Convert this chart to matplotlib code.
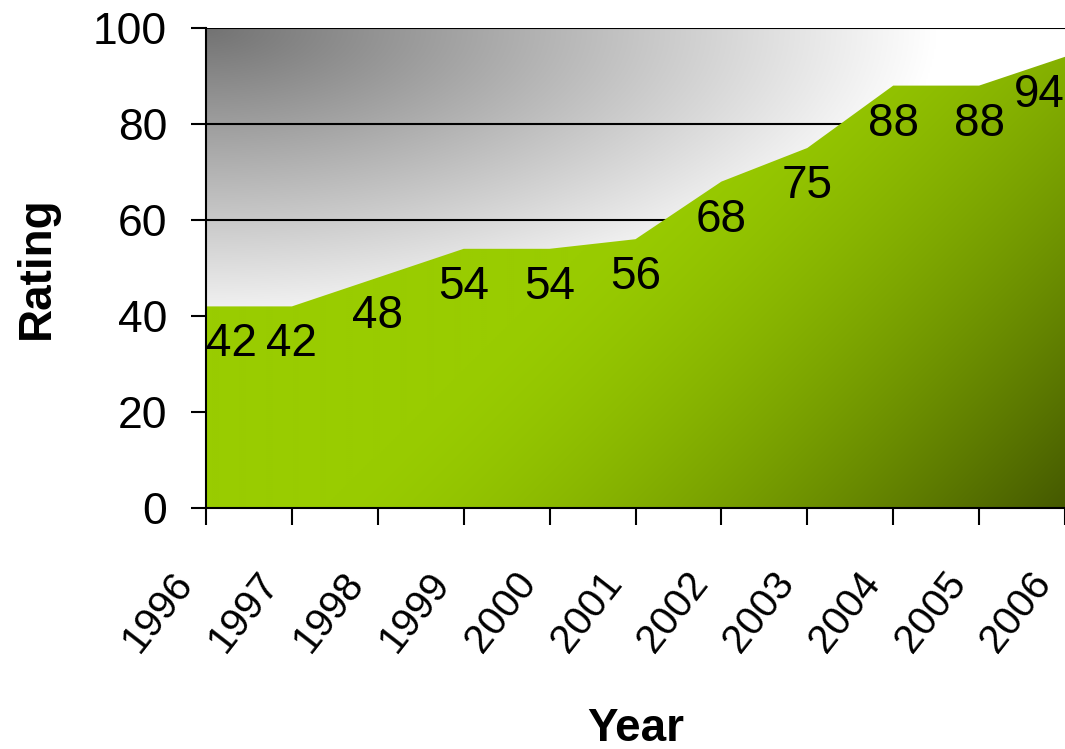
import numpy as np
import matplotlib
matplotlib.use('Agg')
import matplotlib.pyplot as plt
import matplotlib.transforms as mtransforms

years = ['1996', '1997', '1998', '1999', '2000', '2001', '2002', '2003', '2004', '2005', '2006']
ratings = [42, 42, 48, 54, 54, 56, 68, 75, 88, 88, 94]
y_ticks = [0, 20, 40, 60, 80, 100]

plt.rcParams['font.family'] = ['Liberation Sans', 'DejaVu Sans']

W, H = 1065, 749
fig = plt.figure(figsize=(W / 100, H / 100), dpi=100)
ax = fig.add_axes([206 / W, (H - 508) / H, (W - 206) / W, 480 / H])

x = np.arange(len(years))

# background gradient (dark grey at top-left fading to white)
nx, ny = 430, 240
XF, YF = np.meshgrid(np.linspace(0, 1, nx), np.linspace(0, 1, ny))
u = np.sqrt((XF / 0.85) ** 2 + ((1 - YF) / 0.65) ** 2)
g = 0.45 + 0.55 * np.clip(u, 0, 1)
bg = np.dstack([g, g, g])
ax.imshow(bg, extent=[0, 1, 0, 1], transform=ax.transAxes, origin='lower',
          aspect='auto', zorder=0, interpolation='bilinear')

# gridlines
for v in y_ticks[1:]:
    ax.axhline(v, color='black', lw=1.5, zorder=1)

# area with gradient fill (darkening towards bottom-right)
poly = ax.fill_between(x, ratings, 0, facecolor='none', lw=0, zorder=2)
bright = np.array([0.60, 0.80, 0.0])
dark = np.array([0.27, 0.35, 0.0])
s = XF * 859 + (1 - YF) * 480
t = np.clip((s - 600) / 740, 0, 1) ** 1.5
green = bright[None, None, :] * (1 - t[..., None]) + dark[None, None, :] * t[..., None]
im = ax.imshow(green, extent=[0, 1, 0, 1], transform=ax.transAxes, origin='lower',
               aspect='auto', zorder=2, interpolation='bilinear')
im.set_clip_path(poly.get_paths()[0], ax.transData)

# data labels
n = len(years)
for i, v in enumerate(ratings):
    ha = 'left' if i == 0 else ('right' if i == n - 1 else 'center')
    ax.annotate(str(v), (x[i], v), xytext=(0, -38), textcoords='offset pixels',
                ha=ha, va='center', fontsize=33, zorder=5, annotation_clip=False)

ax.set_xlim(0, n - 1)
ax.set_ylim(0, 100)

ax.set_yticks(y_ticks)
ax.set_yticklabels([str(v) for v in y_ticks], fontsize=32)
ax.set_xticks(x)
ax.set_xticklabels(years, rotation=52, ha='right', va='top', fontsize=29)
ax.tick_params(axis='y', length=11, width=1.5, pad=17, color='black')
ax.tick_params(axis='x', length=12, width=1.5, pad=29, color='black')
shift = mtransforms.ScaledTranslation(-6 / 100, 0, fig.dpi_scale_trans)
for lab in ax.get_xticklabels():
    lab.set_transform(lab.get_transform() + shift)

for sp in ['top', 'right']:
    ax.spines[sp].set_visible(False)
for sp in ['left', 'bottom']:
    ax.spines[sp].set_linewidth(1.5)
    ax.spines[sp].set_color('black')
    ax.spines[sp].set_zorder(4)

ax.set_xlabel('Year', fontsize=33, fontweight='bold', va='baseline')
ax.xaxis.set_label_coords(0.5, (508 - 741) / 480)
ax.set_ylabel('Rating', fontsize=33, fontweight='bold', va='center')
ax.yaxis.set_label_coords((37 - 206) / 859, 0.5)

fig.savefig('out.png', dpi=100)
